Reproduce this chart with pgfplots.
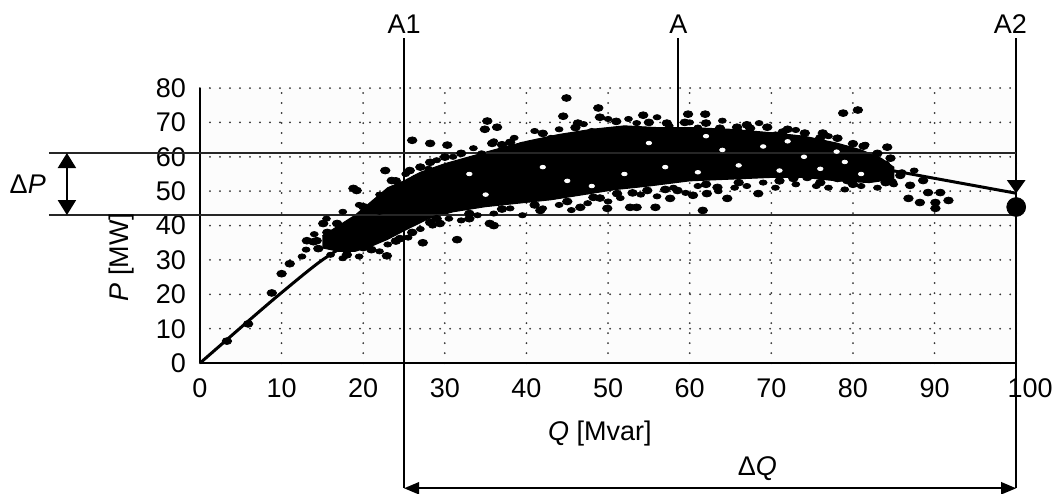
\documentclass[border=0pt]{standalone}
\usepackage{fontspec}
\setmainfont{Liberation Sans}
\usepackage{pgfplots}
\pgfplotsset{compat=1.18}
\usetikzlibrary{arrows.meta}
\begin{document}
\begin{tikzpicture}[font=\fontsize{13.5}{15}\selectfont]
\begin{axis}[
 scale only axis, width=408pt, height=137.5pt,
 xmin=0,xmax=100,ymin=0,ymax=80,
 axis lines=left, axis line style={-, line width=1pt},
 xtick={0,10,...,100}, ytick={0,10,...,80},
 xticklabels={0,10,20,30,40,50,60,70,80,90,\hspace*{14pt}100},
 major tick length=0pt,
 grid=major,
 major grid style={line width=1pt, dash pattern=on 0pt off 5pt, line cap=round, black!80},
 /pgf/number format/assume math mode=true,
 tick label style={font=\fontsize{13.5}{15}\selectfont},
 xticklabel style={yshift=-4pt},
 yticklabel style={xshift=-3.5pt},
 clip=false,
 axis background/.style={fill=black!1},
]
% dense core of the cloud
\addplot[fill=black, draw=black, line width=0.5pt] coordinates {
(15,37) (17,40) (19,43) (21,47) (23,51) (25,53) (27,55.5) (30,58) (33,60) (36,62) (40,64.5) (44,66.5) (48,68) (52,69) (56,68.5) (60,68.5) (65,68) (70,67) (74,66) (78,64) (81,62) (83.5,59.5) (85,57)
(85,53.5) (82,52.5) (78,53) (74,54) (70,54) (65,53.5) (60,53) (55,51.5) (51,50.5) (47,49) (43,47.5) (39,46.5) (35,45.5) (31,44) (28,42) (25,38.5) (23,36) (21,34) (19,32.5) (17,32.5) (15,33.5)
};
% scattered blobs
\addplot[only marks, mark=*, mark size=1.7pt, black, mark options={xscale=1.4}] coordinates {
(3.3,6.4) (5.9,11.4) (8.8,20.4) (10,26) (11,28.9) (13.1,35.6) (13.9,35.3) (14.3,35.6) (14.5,33.3) (15.1,40.6) (15.6,38) (16.8,40.6) (18.8,50.8) (19.2,50.2) (20,33.6) (22.9,31.2) (24.5,36.2) (27.3,35) (31.5,35.9) (22.7,56) (23.5,53.1) (25.7,56) (26,64.8) (28.2,63.9) (30.3,63.4) (28.2,58.4) (30,59.9) (35.8,63.9) (38,64.2) (35.2,70.4) (34.9,68) (36.4,68.6) (44.5,71.8) (44.9,77.1) (48.8,74.2) (49,71.5) (46.3,69.8) (29.4,40.6) (28.2,40.9) (33,42) (35.5,40.6) (36,40) (40.4,47.9) (41.7,44.4) (46.6,45.3) (49.9,45) (52.7,45.3) (48.2,48.2) (51.1,49.3) (53,55) (53.5,45.3) (55.8,45.3) (61.6,44.4) (64.6,47.9) (68.4,49.3) (62.1,49.3) (60.4,48.8) (57.6,47.9) (58.5,50.2) (54.8,50.2) (63.4,51.1) (72.7,53.7) (74.4,54) (78.1,53.7) (54.3,72.1) (59.8,72.4) (61.9,72.4) (59.4,70) (57.2,69.8) (78.8,72.7) (80.6,73.6) (63.7,68.3) (65.8,68.6) (67.4,68.3) (69.5,68.6) (71.4,67.2) (74.1,66.9) (76.3,66.9) (78.1,65.4) (81.3,63.1) (84.2,62.8) (84.6,59.6) (87,51.7) (84.8,52.6) (82.4,53.7) (79.3,53.1) (86.8,47.9) (88.2,46.7) (89.2,49.6) (90.1,46.7) (90.1,45) (90.7,49.6) (91.7,47.3) (85.8,54.6) (88.6,53.1)
(20,45.5) (24,53) (27,57) (32,61) (37,63.5) (42,66.8) (46,68.5) (51,70.3) (55,70) (62,69.8) (67,69.3) (72,68) (76,65.5) (80,63.8) (83,61)
(84,52.5) (80,52) (76,52.5) (71,53) (66,52.5) (62,52) (57,50.5) (53,49.5) (49,48) (45,47) (41,46) (37,44.8) (33,43.5) (29,42) (26,38) (24,35.5) (21,33) (18,31.5)
};
\addplot[only marks, mark=*, mark size=1.3pt, black, mark options={xscale=1.5}] coordinates {
(22,49) (23.5,50.5) (25.2,55) (26.5,54) (28,56.5) (29,59) (31,60) (33.5,62.5) (34.5,61) (36,64.5) (38.5,65.5) (39.5,63.5) (41,67.5) (43,65.5) (44,68) (47,69.5) (48,67.5) (50,71) (52.5,71) (53.5,69.8) (56,71.5) (57.5,69) (60,70) (61,68.5) (64,70.5) (66,67.5) (68.5,69.8) (70.5,66.5) (73,67.8) (75,64.5) (77,66) (79,62.5) (81.5,63.5) (82.5,59.8) (84,58)
(16,31.5) (17.5,30.5) (19.5,31) (22,32.5) (23,34.5) (25.5,36.5) (27,39) (28.5,40) (30.5,42) (32,41.5) (34,43) (36,43.5) (38,45) (39.5,43) (42,45) (44,46) (45.5,44.5) (47.5,46.5) (50,47) (51.5,48) (54,49) (56,48.5) (58,51) (59.5,49.5) (61,51.5) (63.5,50) (65.5,51) (67,51.5) (69,52.5) (70.5,51) (73,52) (75.5,51.5) (77,51) (79,50.5) (81,51.5) (83,51) (85,52) (86,55.5) (87.5,56)
(13,33) (14,37.5) (15.5,42) (16.5,36) (17.5,44) (18,38) (19.5,46) (20.5,41) (21,36) (22,44) (12.5,31)
};
% white specks inside the cloud
\addplot[only marks, mark=*, mark size=0.9pt, white, mark options={xscale=1.5}] coordinates {
(33,55) (42,57) (45,53) (52,55) (57,57) (61,55.5) (64,62) (66,57.5) (69,63) (71,56) (74,60) (76,56.5) (79,58.5) (81,55) (35,49) (48,51.5) (55,64) (72,64.5) (62,66) (78,61.5)
};
% fitted curve
\addplot[smooth, line width=1.5pt, black] coordinates {
(0,0) (3,6.2) (6,12.4) (10,20.5) (15,30) (20,37.2) (25,42.5) (30,47.3) (35,51.5) (40,54.8) (45,57.4) (50,59.3) (55,60.5) (58.6,61) (63,60.8) (68,60.2) (73,59.3) (78,58.3) (82,57.2)
};
\addplot[line width=1.5pt, black] coordinates {(82,57.2) (100,49.4)};
% point A2
\addplot[only marks, mark=*, mark size=4.7pt, black] coordinates {(100,45.4)};

% annotation lines
\draw[line width=1pt] (axis cs:25,94.5) -- (axis cs:25,-36.4);
\draw[line width=1pt] (axis cs:58.6,94.5) -- (axis cs:58.6,61);
\draw[line width=1pt] (axis cs:100,94.5) -- (axis cs:100,-36.4);
\draw[line width=1pt,-{Triangle[length=6.5pt,width=9pt]}] (axis cs:100,94.5) -- (axis cs:100,49.4);
\draw[line width=0.8pt, black!85] (axis cs:-18.5,61.1) -- (axis cs:100,61.1);
\draw[line width=0.8pt, black!85] (axis cs:-18.5,43.05) -- (axis cs:100,43.05);
\draw[line width=1pt,{Triangle[length=7.5pt,width=9pt]}-{Triangle[length=7.5pt,width=9pt]}] (axis cs:-16.3,61.1) -- (axis cs:-16.3,43.05);
\draw[line width=1pt,{Triangle[length=7.5pt,width=6pt]}-{Triangle[length=7.5pt,width=6pt]}] (axis cs:25,-36.4) -- (axis cs:100,-36.4);

% texts
\node[anchor=base] at (axis cs:25,96) {A1};
\node[anchor=base] at (axis cs:58.6,96) {A};
\node[anchor=base] at (axis cs:99.3,96) {A2};
\node[anchor=base] at (axis cs:-21.1,49.2) {Δ\textit{P}};
\node[anchor=base] at (axis cs:49,-22.4) {\textit{Q} [Mvar]};
\node[rotate=90] at (axis cs:-9.6,30.8) {\textit{P} [MW]};
\node[anchor=base] at (axis cs:68.3,-32.6) {Δ\textit{Q}};

\coordinate (bbl) at (axis cs:-24.5,-37.8);
\coordinate (btr) at (axis cs:105,105.6);
\end{axis}
\pgfresetboundingbox
\path[use as bounding box] (bbl) rectangle (btr);
\end{tikzpicture}
\end{document}
